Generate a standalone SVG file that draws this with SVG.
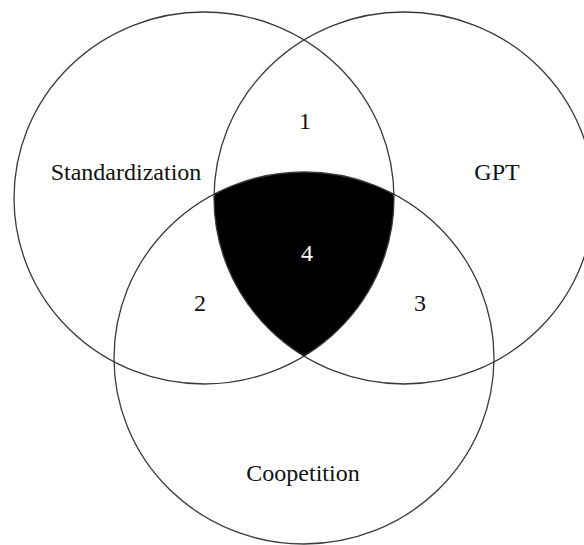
<svg xmlns="http://www.w3.org/2000/svg" width="584" height="545" viewBox="0 0 584 545">
<style>
.c{fill:none;stroke:#3a3a3a;stroke-width:1.3}
text{font-family:'Liberation Serif','Times New Roman',Tinos,'DejaVu Serif',serif;font-size:24px;fill:#111;text-anchor:middle}
</style>
<defs>
<clipPath id="cL"><ellipse cx="204" cy="198" rx="190" ry="186"/></clipPath>
<clipPath id="cR"><ellipse cx="404" cy="198" rx="190" ry="186"/></clipPath>
</defs>
<rect width="584" height="545" fill="#fff"/>
<g id="region4-fill" clip-path="url(#cL)"><g clip-path="url(#cR)"><ellipse cx="304" cy="358" rx="190" ry="186" fill="#000"/></g></g>
<g id="connectors"></g>
<g id="standardization"><ellipse class="c" cx="204" cy="198" rx="190" ry="186"/><text font-family="Liberation Serif, serif" x="126" y="180">Standardization</text></g>
<g id="gpt"><ellipse class="c" cx="404" cy="198" rx="190" ry="186"/><text font-family="Liberation Serif, serif" x="497" y="180">GPT</text></g>
<g id="coopetition"><ellipse class="c" cx="304" cy="358" rx="190" ry="186"/><text font-family="Liberation Serif, serif" x="303" y="481">Coopetition</text></g>
<g id="label1"><text font-family="Liberation Serif, serif" x="305" y="129">1</text></g>
<g id="label2"><text font-family="Liberation Serif, serif" x="200" y="311">2</text></g>
<g id="label3"><text font-family="Liberation Serif, serif" x="420" y="311">3</text></g>
<g id="label4"><text font-family="Liberation Serif, serif" x="307" y="261" style="fill:#fff">4</text></g>
</svg>
